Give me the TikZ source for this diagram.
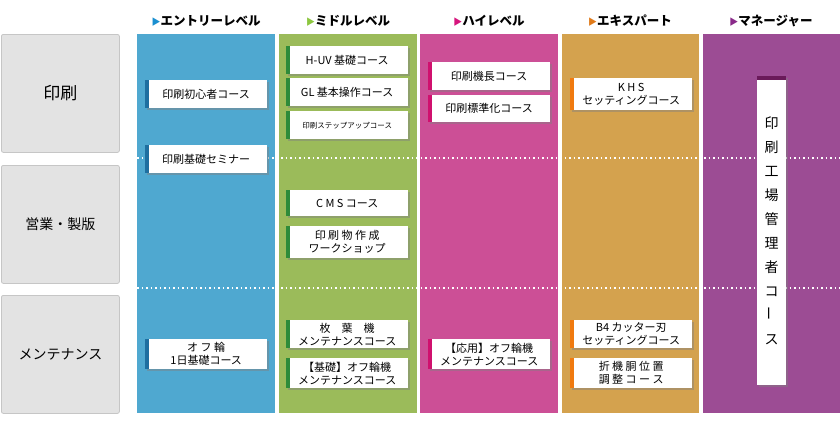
\documentclass[tikz,border=0pt]{standalone}
\usepackage{fontspec}
\setmainfont{Noto Sans CJK JP}
\usetikzlibrary{shadows}
\definecolor{cB}{HTML}{4FA8D0}\definecolor{cG}{HTML}{9BBB5A}\definecolor{cP}{HTML}{CC4F96}
\definecolor{cO}{HTML}{D4A24E}\definecolor{cV}{HTML}{9C4C94}
\definecolor{tB}{HTML}{1A8FD0}\definecolor{tG}{HTML}{8CC63F}\definecolor{tP}{HTML}{D6157D}
\definecolor{tO}{HTML}{E07A1A}\definecolor{tV}{HTML}{8A2A8A}
\definecolor{bB}{HTML}{1F6FA0}\definecolor{bG}{HTML}{2E8B3A}\definecolor{bP}{HTML}{D0106E}
\definecolor{bO}{HTML}{F07A10}\definecolor{bV}{HTML}{6A1A5A}
\tikzset{
 col/.style={fill=#1,draw=none},
 rowlab/.style={fill=gray!22,draw=gray!45,line width=0.8pt,rounded corners=2pt,anchor=north west,minimum width=118pt,minimum height=118pt,inner sep=0pt,font=\fontsize{14}{16}\selectfont},
 hdr/.style={font=\fontsize{12.5}{14}\selectfont\bfseries,anchor=center},
 course/.style={fill=white,anchor=north west,inner sep=0pt,minimum width=122pt,minimum height=28pt,align=center,
   font=\fontsize{11}{13.5}\selectfont,drop shadow={shadow xshift=1.5pt,shadow yshift=-1.5pt,opacity=0.45},
   path picture={\fill[#1] (path picture bounding box.north west) rectangle ([xshift=4pt]path picture bounding box.south west);}},
 sep/.style={white,line width=1.5pt,dash pattern=on 1.5pt off 3pt}
}
\begin{document}
\begin{tikzpicture}[x=1pt,y=-1pt]
\useasboundingbox[fill=white] (0,0) rectangle (840,431);
% columns
\fill[col=cB] (137,34) rectangle (275,413);
\fill[col=cG] (279,34) rectangle (417,413);
\fill[col=cP] (420,34) rectangle (558,413);
\fill[col=cO] (562,34) rectangle (699,413);
\fill[col=cV] (703,34) rectangle (840,413);
% headers
\node[hdr] (h1) at (206,21) {{\color{tB}\small▶}エントリーレベル};
\node[hdr] (h2) at (348,21) {{\color{tG}\small▶}ミドルレベル};
\node[hdr] (h3) at (489,21) {{\color{tP}\small▶}ハイレベル};
\node[hdr] (h4) at (630,21) {{\color{tO}\small▶}エキスパート};
\node[hdr] (h5) at (771,21) {{\color{tV}\small▶}マネージャー};
% row labels
\node[rowlab,font=\fontsize{17}{19}\selectfont] (r1) at (1,34) {印刷};
\node[rowlab] (r2) at (1,165) {営業・製版};
\node[rowlab] (r3) at (1,295) {メンテナンス};
% separators
\draw[sep] (137,158) -- (840,158);
\draw[sep] (137,288) -- (840,288);
% blue
\node[course=bB] (b1) at (145,80) {印刷初心者コース};
\node[course=bB] (b2) at (145,145) {印刷基礎セミナー};
\node[course=bB,minimum width=122pt,minimum height=30pt,font=\fontsize{11}{13}\selectfont] (b3) at (145,339) {オ フ 輪\\1日基礎コース};
% green
\node[course=bG] (g1) at (286,46) {H-UV 基礎コース};
\node[course=bG] (g2) at (286,78) {GL 基本操作コース};
\node[course=bG,font=\fontsize{7.5}{9}\selectfont] (g3) at (286,111) {印刷ステップアップコース};
\node[course=bG,minimum height=26pt] (g4) at (286,190) {C M S コース};
\node[course=bG,minimum height=32pt,font=\fontsize{11}{13}\selectfont] (g5) at (286,226) {印 刷 物 作 成\\ワークショップ};
\node[course=bG,font=\fontsize{11}{13}\selectfont] (g6) at (286,320) {枚　葉　機\\メンテナンスコース};
\node[course=bG,minimum height=30pt,font=\fontsize{11}{13}\selectfont] (g7) at (286,358) {【基礎】オフ輪機\\メンテナンスコース};
% pink
\node[course=bP] (p1) at (428,62) {印刷機長コース};
\node[course=bP,minimum height=27pt] (p2) at (428,95) {印刷標準化コース};
\node[course=bP,minimum height=30pt,font=\fontsize{11}{13}\selectfont] (p3) at (428,339) {【応用】オフ輪機\\メンテナンスコース};
% orange
\node[course=bO,minimum height=32pt,font=\fontsize{11}{13}\selectfont] (o1) at (570,78) {K H S\\セッティングコース};
\node[course=bO,font=\fontsize{11}{13}\selectfont] (o2) at (570,320) {B4 カッター刃\\セッティングコース};
\node[course=bO,minimum height=30pt,font=\fontsize{11}{13}\selectfont] (o3) at (570,358) {折 機 胴 位 置\\調 整 コ ー ス};
% purple
\node[fill=white,anchor=north west,inner sep=0pt,minimum width=29pt,minimum height=309pt,align=center,
  font=\fontsize{14}{24}\selectfont,drop shadow={shadow xshift=1.5pt,shadow yshift=-1.5pt,opacity=0.45},
  path picture={\fill[bV] (path picture bounding box.north west) rectangle ([yshift=-4pt]path picture bounding box.north east);}]
  (v1) at (757,76) {印\\刷\\工\\場\\管\\理\\者\\コ\\\rotatebox{90}{ー}\\ス};
\end{tikzpicture}
\end{document}
